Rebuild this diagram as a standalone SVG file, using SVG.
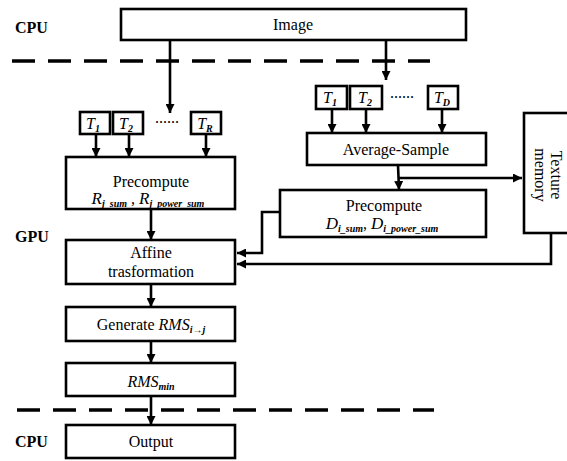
<svg xmlns="http://www.w3.org/2000/svg" width="567" height="461" viewBox="0 0 567 461" font-family="'Liberation Serif', 'DejaVu Serif', serif">
<defs>
<marker id="ah" viewBox="0 0 10 10" refX="10" refY="5" markerWidth="9" markerHeight="9" markerUnits="userSpaceOnUse" orient="auto"><path d="M0,0 L10,5 L0,10 z" fill="#000"/></marker>
</defs>
<style>
text{font-family:'Liberation Serif','DejaVu Serif',serif}
.box{fill:#fff;stroke:#000;stroke-width:2.6}
.t{font-size:16px;fill:#000}
.lbl{font-size:16px;font-weight:bold;fill:#000}
.it{font-style:italic}
.sub{font-style:italic;font-weight:bold;font-size:10px}
.arr{fill:none;stroke:#000;stroke-width:2.6;marker-end:url(#ah)}
.dash{fill:none;stroke:#000;stroke-width:3.5;stroke-dasharray:23 13}
</style>
<rect width="567" height="461" fill="#fff"/>
<g id="labels">
<text class="lbl" x="15" y="33">CPU</text>
<text class="lbl" x="15" y="242">GPU</text>
<text class="lbl" x="15" y="447">CPU</text>
</g>
<g id="dividers">
<line class="dash" x1="12" y1="61" x2="430" y2="61"/>
<line class="dash" x1="17" y1="410" x2="434" y2="410"/>
</g>
<g id="connectors">
<line class="arr" x1="170" y1="40" x2="170" y2="113"/>
<line class="arr" x1="386" y1="40" x2="386" y2="80"/>
<line class="arr" x1="96" y1="134" x2="96" y2="157"/>
<line class="arr" x1="129" y1="134" x2="129" y2="157"/>
<line class="arr" x1="206" y1="134" x2="206" y2="157"/>
<line class="arr" x1="332" y1="109" x2="332" y2="133"/>
<line class="arr" x1="366" y1="109" x2="366" y2="133"/>
<line class="arr" x1="442" y1="109" x2="442" y2="133"/>
<line class="arr" x1="398" y1="165" x2="399" y2="190"/>
<line class="arr" x1="398" y1="178" x2="522" y2="178"/>
<path class="arr" d="M280,212 H262 V253 H237"/>
<path class="arr" d="M551,233 V264 H237"/>
<line class="arr" x1="151" y1="209" x2="151" y2="240"/>
<line class="arr" x1="151" y1="284" x2="151" y2="307"/>
<line class="arr" x1="151" y1="341" x2="151" y2="363"/>
<line class="arr" x1="151" y1="396" x2="151" y2="425"/>
</g>
<g id="image">
<rect class="box" x="121" y="9" width="345" height="31"/>
<text class="t" x="293" y="30" text-anchor="middle">Image</text>
</g>
<g id="tr-group">
<rect class="box" x="80" y="112" width="30" height="22"/>
<text class="t it" x="93" y="129" text-anchor="middle">T<tspan class="sub" dy="3">1</tspan></text>
<rect class="box" x="113" y="112" width="30" height="22"/>
<text class="t it" x="126" y="129" text-anchor="middle">T<tspan class="sub" dy="3">2</tspan></text>
<text class="t" x="167" y="123" text-anchor="middle">......</text>
<rect class="box" x="191" y="112" width="30" height="22"/>
<text class="t it" x="205" y="129" text-anchor="middle">T<tspan class="sub" dy="3">R</tspan></text>
</g>
<g id="td-group">
<rect class="box" x="316" y="86" width="31" height="23"/>
<text class="t it" x="330" y="103" text-anchor="middle">T<tspan class="sub" dy="3">1</tspan></text>
<rect class="box" x="350" y="86" width="32" height="23"/>
<text class="t it" x="365" y="103" text-anchor="middle">T<tspan class="sub" dy="3">2</tspan></text>
<text class="t" x="402" y="98" text-anchor="middle">......</text>
<rect class="box" x="428" y="86" width="30" height="23"/>
<text class="t it" x="442" y="103" text-anchor="middle">T<tspan class="sub" dy="3">D</tspan></text>
</g>
<g id="precompute-r">
<rect class="box" x="66" y="157" width="169" height="52"/>
<text class="t" x="151" y="187" text-anchor="middle" font-size="17">Precompute</text>
<text class="t" x="148" y="204" text-anchor="middle"><tspan class="it" font-size="17">R</tspan><tspan class="sub" dy="3">j_sum</tspan><tspan dy="-3"> , </tspan><tspan class="it" font-size="17">R</tspan><tspan class="sub" dy="3">j_power_sum</tspan></text>
</g>
<g id="average-sample">
<rect class="box" x="307" y="133" width="179" height="32"/>
<text class="t" x="396" y="155" text-anchor="middle">Average-Sample</text>
</g>
<g id="texture-memory">
<rect class="box" x="524" y="113" width="45" height="120"/>
<text class="t" transform="rotate(90)" text-anchor="middle"><tspan x="175" y="-551">Texture</tspan><tspan x="175" y="-535">memory</tspan></text>
</g>
<g id="precompute-d">
<rect class="box" x="280" y="190" width="206" height="47"/>
<text class="t" x="384" y="211" text-anchor="middle">Precompute</text>
<text class="t" x="382" y="229" text-anchor="middle"><tspan class="it" font-size="17">D</tspan><tspan class="sub" dy="3">i_sum</tspan><tspan dy="-3">, </tspan><tspan class="it" font-size="17">D</tspan><tspan class="sub" dy="3">i_power_sum</tspan></text>
</g>
<g id="affine">
<rect class="box" x="66" y="240" width="169" height="44"/>
<text class="t" x="151" y="258" text-anchor="middle">Affine</text>
<text class="t" x="151" y="277" text-anchor="middle">trasformation</text>
</g>
<g id="generate">
<rect class="box" x="66" y="307" width="169" height="34"/>
<text class="t" x="151" y="330" text-anchor="middle" font-size="17">Generate <tspan class="it">RMS</tspan><tspan class="sub" dy="3">i→j</tspan></text>
</g>
<g id="rms-min">
<rect class="box" x="66" y="363" width="169" height="33"/>
<text class="t" x="151" y="387" text-anchor="middle" font-size="17"><tspan class="it">RMS</tspan><tspan class="sub" dy="3">min</tspan></text>
</g>
<g id="output">
<rect class="box" x="66" y="425" width="169" height="33"/>
<text class="t" x="151" y="447" text-anchor="middle">Output</text>
</g>
</svg>
